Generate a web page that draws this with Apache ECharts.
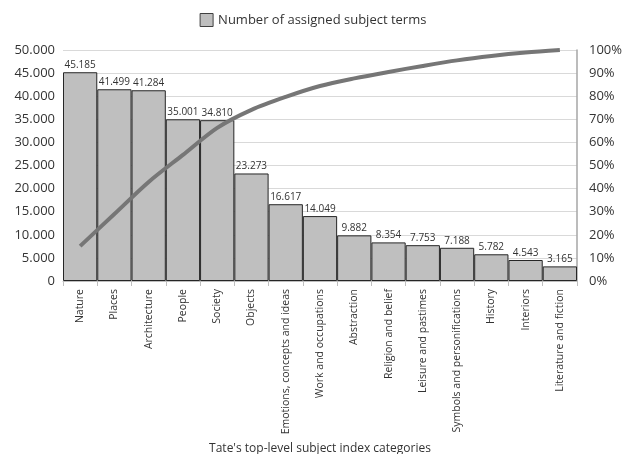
<!DOCTYPE html>
<html><head><meta charset="utf-8">
<script src="https://cdn.jsdelivr.net/npm/echarts@6/dist/echarts.min.js"></script>
<style>html,body{margin:0;padding:0;background:#fff}#c{width:626px;height:454px}</style>
</head><body><div id="c"></div>
<script>
const categories = ["Nature","Places","Architecture","People","Society","Objects","Emotions, concepts and ideas","Work and occupations","Abstraction","Religion and belief","Leisure and pastimes","Symbols and personifications","History","Interiors","Literature and fiction"];
const termCounts = [45185,41499,41284,35001,34810,23273,16617,14049,9882,8354,7753,7188,5782,4543,3165];
const cumulativePct = [15.1,29.0,42.9,54.6,66.3,74.1,79.7,84.4,87.7,90.5,93.1,95.5,97.4,98.9,100];
const leftTicks = {min:0,max:50000,interval:5000};
const rightTicks = {min:0,max:100,interval:10};
const font = '"Open Sans", "Liberation Sans", sans-serif';
function fmt(v){return String(v).replace(/\B(?=(\d{3})+(?!\d))/g,'.');}
const chart = echarts.init(document.getElementById('c'));
chart.setOption({
  animation:false,
  textStyle:{fontFamily:font},
  legend:{top:8,left:'center',data:[{name:'Number of assigned subject terms',icon:'rect'}],itemWidth:13,itemHeight:13,itemGap:6,
    itemStyle:{color:'#bfbfbf',borderColor:'#404040',borderWidth:1},
    textStyle:{fontSize:13,color:'#333',fontFamily:font}},
  grid:{left:63,right:49,top:50,bottom:173,containLabel:false,outerBoundsMode:'none'},
  xAxis:{type:'category',data:categories,name:"Tate's top-level subject index categories",nameLocation:'middle',nameGap:159,
    nameTextStyle:{fontSize:12,color:'#333',fontFamily:font},
    axisLine:{lineStyle:{color:'#bfbfbf'}},axisTick:{show:true,alignWithLabel:false,lineStyle:{color:'#bfbfbf'}},
    axisLabel:{rotate:90,interval:0,fontSize:10.5,color:'#333',margin:8,fontFamily:font}},
  yAxis:[{type:'value',min:leftTicks.min,max:leftTicks.max,interval:leftTicks.interval,
      axisLabel:{formatter:fmt,fontSize:13,color:'#333',margin:8,fontFamily:font},
      axisLine:{show:false},axisTick:{show:false},splitLine:{lineStyle:{color:'#d9d9d9'}}},
    {type:'value',min:rightTicks.min,max:rightTicks.max,interval:rightTicks.interval,
      axisLabel:{formatter:'{value}%',fontSize:13,color:'#333',margin:12,fontFamily:font},
      axisLine:{show:true,lineStyle:{color:'#a6a6a6',width:1.5}},axisTick:{show:false},splitLine:{show:false}}],
  series:[{name:'Number of assigned subject terms',type:'bar',data:termCounts,barCategoryGap:'0%',
      itemStyle:{color:'#bfbfbf',borderColor:'#262626',borderWidth:1},
      label:{show:true,position:'top',formatter:p=>fmt(p.value),fontSize:10,color:'#333',distance:2,fontFamily:font}},
    {name:'Cumulative',type:'line',yAxisIndex:1,data:cumulativePct,smooth:0.3,symbol:'none',
      lineStyle:{color:'#767676',width:4}}]
});
</script></body></html>
